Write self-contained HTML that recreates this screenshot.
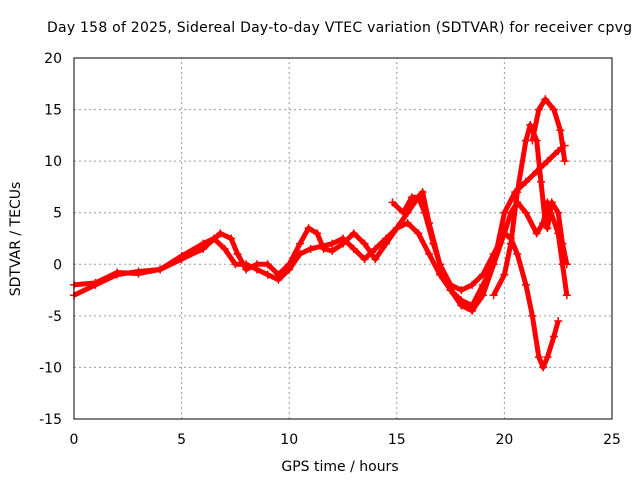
<!DOCTYPE html>
<html><head><meta charset="utf-8"><style>
body{margin:0;background:#fff}
svg text{font-family:"DejaVu Sans","Liberation Sans",sans-serif;font-size:14px;fill:#000}
</style></head><body>
<svg id="chart" width="640" height="480">
<text x="47" y="32" textLength="585" lengthAdjust="spacing">Day 158 of 2025, Sidereal Day-to-day VTEC variation (SDTVAR) for receiver cpvg</text>
<text x="340" y="471" text-anchor="middle">GPS time / hours</text>
<text transform="translate(20,239) rotate(-90)" text-anchor="middle">SDTVAR / TECUs</text>
<g id="grid"></g><g id="series"></g>
<rect x="74" y="58" width="538" height="361" fill="none" stroke="#000"/>
</svg>
<script>
const xTicks=[0,5,10,15,20,25];
const yTicks=[-15,-10,-5,0,5,10,15,20];
const trackA=[[0,-3],[1,-2],[2,-1],[3,-0.7],[4,-0.5],[5,0.8],[6,2],[6.5,2.5],[7,1.5],[7.5,0],[8,0],[8.5,-0.5],[9,-1],[9.5,-1.5],[10,-0.5],[10.5,1],[11,1.5],[12,2],[12.5,2.5],[13,1.5],[13.5,0.5],[14,1.5],[14.5,2.5],[15,3.5],[15.5,4],[16,3],[16.5,1],[17,-1],[17.5,-2.5],[18,-3.5],[18.5,-4],[19,-2],[19.5,0],[20,3],[20.3,5],[20.6,6],[21,5],[21.5,3],[21.8,4],[22,6],[22.5,3],[22.7,0],[22.9,-3]];
const trackB=[[0,-2],[1,-1.8],[2,-0.8],[3,-0.9],[4,-0.5],[5,0.5],[6,1.5],[6.8,3],[7.3,2.5],[7.6,1],[8,-0.5],[8.5,0],[9,0],[9.5,-1],[10,0],[10.5,2],[10.9,3.5],[11.3,3],[11.6,1.5],[12,1.3],[12.5,2],[13,3],[13.5,2],[14,0.5],[14.5,2],[15,3.5],[15.5,5],[16,6.5],[16.3,5],[16.7,2],[17,0],[17.5,-2],[18,-2.5],[18.5,-2],[19,-1],[19.5,1],[20,3],[20.3,2.5],[20.6,1],[21,-2],[21.3,-5],[21.6,-9],[21.8,-10],[22,-9],[22.3,-7],[22.5,-5.5]];
const trackC=[[14.8,6],[15.3,5],[15.7,6.5],[16,6.5],[16.2,7],[16.5,4],[17,0],[17.5,-2.5],[18,-4],[18.5,-4.5],[19,-3],[19.5,0],[20,5],[20.5,7],[21,8],[21.5,9],[22,10],[22.5,11],[22.8,11.5]];
const trackD=[[19.5,-3],[20,-1],[20.3,2],[20.6,7],[21,12],[21.2,13.5],[21.5,12],[21.7,8],[21.9,4],[22,3.5],[22.2,6],[22.5,5],[22.7,2],[22.9,0]];
const trackE=[[21.3,12],[21.6,15],[21.9,16],[22.3,15],[22.6,13],[22.8,10]];
const NS='http://www.w3.org/2000/svg';
const X0=74,X1=612,Y0=419,Y1=58,xMin=0,xMax=25,yMin=-15,yMax=20;
function sx(v){return X0+(v-xMin)/(xMax-xMin)*(X1-X0);}
function sy(v){return Y0-(v-yMin)/(yMax-yMin)*(Y0-Y1);}
const grid=document.getElementById('grid'),ser=document.getElementById('series');
function mk(tag,attrs,parent){const e=document.createElementNS(NS,tag);for(const k in attrs)e.setAttribute(k,attrs[k]);parent.appendChild(e);return e;}
xTicks.forEach(t=>{
 const l=mk('line',{x1:sx(t),x2:sx(t),y1:Y0,y2:Y1,stroke:'#999','stroke-dasharray':'2,3'},grid);
 
 
 const tx=mk('text',{x:sx(t),y:Y0+25,'text-anchor':'middle'},grid);tx.textContent=t;
 
 
});
yTicks.forEach(t=>{
 const l=mk('line',{x1:X0,x2:X1,y1:sy(t),y2:sy(t),stroke:'#999','stroke-dasharray':'2,3'},grid);
 
 
 const tx=mk('text',{x:X0-12,y:sy(t)+5,'text-anchor':'end'},grid);tx.textContent=t;
 
 
});
[trackA,trackB,trackC,trackD,trackE].forEach((tr,i)=>{
 const p=mk('polyline',{points:tr.map(d=>sx(d[0])+','+sy(d[1])).join(' '),fill:'none',stroke:'#f00','stroke-width':5,'stroke-linejoin':'round'},ser);
 
 
 tr.forEach(d=>{
  const m=mk('path',{d:`M${sx(d[0])-4},${sy(d[1])}h8M${sx(d[0])},${sy(d[1])-4}v8`,stroke:'#f00','stroke-width':1.5},ser);
  
  
 });
});
</script>
</body></html>
